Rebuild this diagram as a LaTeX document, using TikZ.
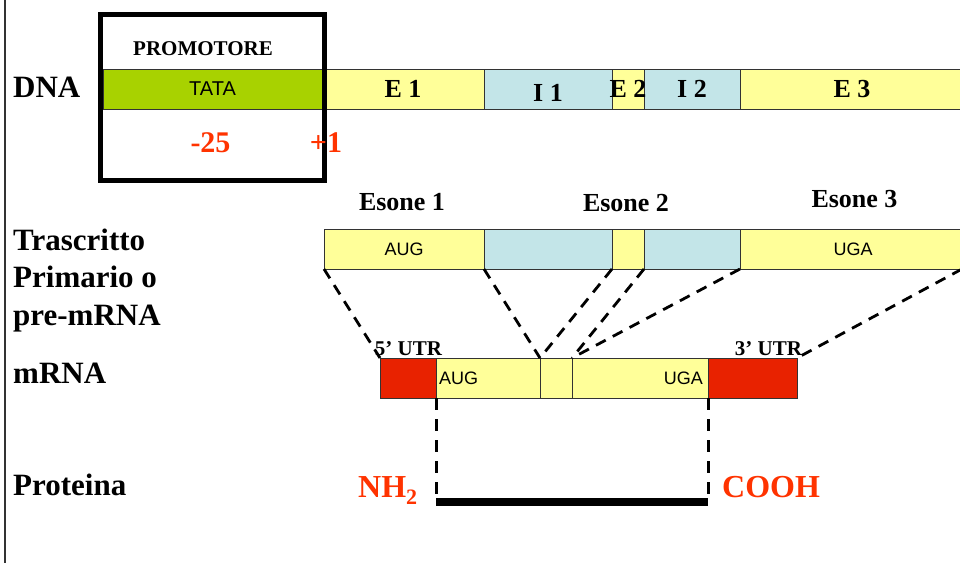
\documentclass[tikz,border=0pt]{standalone}
\usepackage{fontspec}
\setmainfont{Liberation Serif}
\newfontfamily\arialf{Liberation Sans}
\definecolor{yel}{HTML}{FFFF99}
\definecolor{blu}{HTML}{C3E5E8}
\definecolor{tatag}{HTML}{A8D200}
\definecolor{boxred}{HTML}{E82200}
\definecolor{txtred}{HTML}{FF3300}
\begin{document}
\begin{tikzpicture}[x=1pt,y=-1pt,
  seg/.style={draw=black!80, line width=0.9pt, inner sep=0pt, outer sep=0pt, minimum height=40pt, anchor=west},
  lab/.style={font=\bfseries\fontsize{31}{31}\selectfont, anchor=base west, inner sep=0pt},
  blk/.style={font=\bfseries\fontsize{26}{26}\selectfont, inner sep=0pt},
  sans/.style={font=\arialf\fontsize{18}{18}\selectfont, inner sep=0pt},
  redt/.style={font=\bfseries\fontsize{30}{30}\selectfont, text=txtred, inner sep=0pt, anchor=base},
  utr/.style={font=\bfseries\fontsize{21}{21}\selectfont, inner sep=0pt, anchor=base},
  dsh/.style={line width=2.8pt, dash pattern=on 11pt off 8pt},
  vdsh/.style={line width=3pt, dash pattern=on 12pt off 9pt}]
\useasboundingbox (0,0) rectangle (960,563);
\coordinate (bt) at (5,0);
\coordinate (bb) at (5,563);
\draw[line width=1.5pt, black!80] (bt) -- (bb);

% left labels
\node[lab] (ldna) at (13,97) {DNA};
\node[lab] (ltr) at (13,250) {Trascritto};
\node[lab] (lpr) at (13,287) {Primario o};
\node[lab] (lpre) at (13,325) {pre-mRNA};
\node[lab] (lm) at (13,383) {mRNA};
\node[lab] (lp) at (13,495) {Proteina};

% DNA
\node[seg, fill=tatag, minimum width=219pt] (tata) at (103,89) {};
\node[seg, fill=yel, minimum width=162pt] (e1) at (322,89) {};
\node[seg, fill=blu, minimum width=128pt] (i1) at (484,89) {};
\node[seg, fill=yel, minimum width=32pt] (e2) at (612,89) {};
\node[seg, fill=blu, minimum width=96pt] (i2) at (644,89) {};
\node[seg, fill=yel, minimum width=222pt] (e3) at (740,89) {};
\node[draw, line width=5pt, minimum width=224pt, minimum height=166pt, inner sep=0pt] (prom) at (212.5,97.5) {};
\node[font=\arialf\fontsize{20}{20}\selectfont, inner sep=0pt] (ttata) at (tata.center) {TATA};
\node[blk] (te1) at (e1.center) {E 1};
\node[blk, yshift=-4pt] (ti1) at (i1.center) {I 1};
\node[blk] (te2) at (e2.center) {E 2};
\node[blk] (ti2) at (i2.center) {I 2};
\node[blk, xshift=1pt] (te3) at (e3.center) {E 3};
\node[font=\bfseries\fontsize{21}{21}\selectfont, inner sep=0pt, anchor=base] (tprom) at (203,55) {PROMOTORE};
\node[redt] (m25) at (210.5,152) {-25};
\node[redt] (p1lab) at (326,152) {+1};

% exon labels
\node[blk, anchor=base] (es1) at (402,210) {Esone 1};
\node[blk, anchor=base] (es2) at (626,211) {Esone 2};
\node[blk, anchor=base] (es3) at (854.5,207) {Esone 3};

% transcript
\node[seg, fill=yel, minimum width=160pt] (t1) at (324,249) {};
\node[seg, fill=blu, minimum width=128pt] (t2) at (484,249) {};
\node[seg, fill=yel, minimum width=32pt] (t3) at (612,249) {};
\node[seg, fill=blu, minimum width=96pt] (t4) at (644,249) {};
\node[seg, fill=yel, minimum width=222pt] (t5) at (740,249) {};
\node[sans] (taug) at (t1.center) {AUG};
\node[sans, xshift=2pt] (tuga) at (t5.center) {UGA};

% mRNA
\node[seg, fill=boxred, minimum width=56pt] (m1) at (380,378) {};
\node[seg, fill=yel, minimum width=104pt] (m2) at (436,378) {};
\node[seg, fill=yel, minimum width=32pt] (m3) at (540,378) {};
\node[seg, fill=yel, minimum width=136pt] (m4) at (572,378) {};
\node[seg, fill=boxred, minimum width=89pt] (m5) at (708,378) {};
\node[sans, anchor=west, xshift=3pt] (maug) at (m2.west) {AUG};
\node[sans, anchor=east, xshift=-5pt] (muga) at (m4.east) {UGA};

% splicing connectors
\draw[dsh] (t1.south west) -- (m1.north west);
\draw[dsh] (t1.south east) -- (m2.north east);
\draw[dsh] (t3.south west) -- (m3.north west);
\draw[dsh] (t3.south east) -- (m4.north west);
\draw[dsh] (t4.south east) -- (m4.north west);
\draw[dsh] (t5.south east) -- (m5.north east);

\node[utr] (u5) at (408.5,355) {5’ UTR};
\node[utr] (u3) at (768.5,355) {3’ UTR};

% protein
\coordinate (pa) at (436,502);
\coordinate (pb) at (708,502);
\draw[vdsh] (m2.south west) -- (pa);
\draw[vdsh] (m4.south east) -- (pb);
\draw[line width=8pt] (pa) -- (pb);
\node[font=\bfseries\fontsize{32}{32}\selectfont, text=txtred, inner sep=0pt, anchor=base west] (nh2) at (358,497) {NH\raisebox{-7pt}{\fontsize{22}{22}\selectfont 2}};
\node[font=\bfseries\fontsize{32}{32}\selectfont, text=txtred, inner sep=0pt, anchor=base west] (cooh) at (722,497) {COOH};
\end{tikzpicture}
\end{document}
